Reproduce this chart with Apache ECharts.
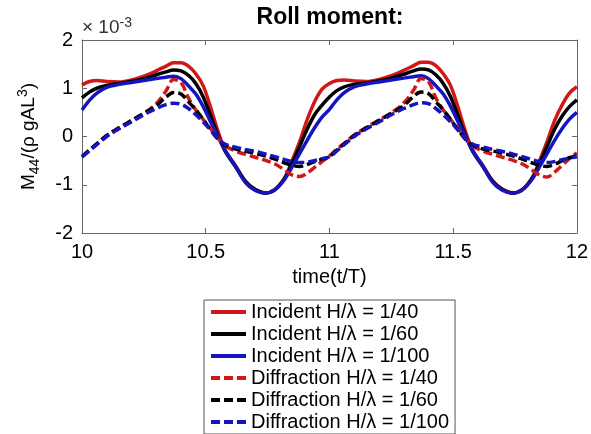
<!DOCTYPE html>
<html>
<head>
<meta charset="utf-8">
<script src="https://cdn.jsdelivr.net/npm/echarts@6/dist/echarts.min.js"></script>
<style>html,body{margin:0;padding:0;background:#fff}#c{width:591px;height:434px}</style>
</head>
<body>
<div id="c"></div>
<script>
// time samples (t/T)
var time = [10, 10.03, 10.06, 10.1, 10.15, 10.2, 10.25, 10.3, 10.34, 10.37, 10.4, 10.43, 10.46, 10.49, 10.52, 10.55, 10.58, 10.62, 10.66, 10.7, 10.74, 10.78, 10.82, 10.85, 10.88, 10.91, 10.94, 10.97,
            11, 11.03, 11.06, 11.1, 11.15, 11.2, 11.25, 11.3, 11.34, 11.37, 11.4, 11.43, 11.46, 11.49, 11.52, 11.55, 11.58, 11.62, 11.66, 11.7, 11.74, 11.78, 11.82, 11.85, 11.88, 11.91, 11.94, 11.97,
            12];
// values in units of 1e-3
var incident40 = [1.07, 1.14, 1.16, 1.14, 1.13, 1.17, 1.25, 1.36, 1.46, 1.53, 1.53, 1.46, 1.3, 1.05, 0.6, 0.1, -0.3, -0.6, -0.92, -1.1, -1.17, -1.1, -0.85, -0.49, -0.1, 0.35, 0.72, 0.98,
                  1.1, 1.16, 1.17, 1.15, 1.14, 1.18, 1.26, 1.37, 1.47, 1.54, 1.54, 1.47, 1.3, 1.05, 0.6, 0.1, -0.3, -0.6, -0.92, -1.1, -1.17, -1.1, -0.85, -0.49, -0.1, 0.33, 0.65, 0.9,
                  1.03];
var incident60 = [0.8, 0.92, 1.0, 1.06, 1.1, 1.14, 1.2, 1.28, 1.34, 1.38, 1.36, 1.27, 1.1, 0.82, 0.42, 0.02, -0.32, -0.62, -0.93, -1.1, -1.17, -1.1, -0.86, -0.55, -0.2, 0.15, 0.45, 0.65,
                  0.82, 0.95, 1.03, 1.08, 1.11, 1.15, 1.21, 1.29, 1.36, 1.4, 1.38, 1.28, 1.1, 0.82, 0.42, 0.02, -0.32, -0.62, -0.93, -1.1, -1.17, -1.1, -0.86, -0.55, -0.2, 0.15, 0.42, 0.62,
                  0.76];
var incident100 = [0.55, 0.75, 0.9, 1.02, 1.08, 1.12, 1.16, 1.2, 1.23, 1.25, 1.2, 1.05, 0.88, 0.62, 0.3, 0.0, -0.3, -0.62, -0.95, -1.12, -1.17, -1.1, -0.88, -0.62, -0.35, -0.08, 0.18, 0.4,
                   0.56, 0.76, 0.91, 1.03, 1.09, 1.13, 1.17, 1.21, 1.24, 1.26, 1.2, 1.05, 0.88, 0.62, 0.3, 0.0, -0.3, -0.62, -0.95, -1.12, -1.17, -1.1, -0.88, -0.62, -0.35, -0.08, 0.16, 0.36,
                   0.5];
var diffraction40 = [-0.42, -0.28, -0.15, 0.02, 0.18, 0.33, 0.48, 0.68, 0.95, 1.18, 1.12, 0.8, 0.55, 0.35, 0.16, -0.04, -0.2, -0.3, -0.37, -0.43, -0.49, -0.57, -0.7, -0.8, -0.83, -0.76, -0.64, -0.52,
                     -0.4, -0.26, -0.14, 0.03, 0.19, 0.34, 0.49, 0.69, 0.96, 1.2, 1.14, 0.8, 0.55, 0.35, 0.16, -0.04, -0.2, -0.3, -0.37, -0.43, -0.49, -0.57, -0.7, -0.8, -0.84, -0.74, -0.6, -0.46,
                     -0.34];
var diffraction60 = [-0.42, -0.28, -0.15, 0.02, 0.18, 0.33, 0.48, 0.64, 0.82, 0.91, 0.88, 0.72, 0.55, 0.35, 0.14, -0.06, -0.18, -0.26, -0.3, -0.35, -0.4, -0.47, -0.55, -0.6, -0.62, -0.58, -0.52, -0.47,
                     -0.42, -0.28, -0.15, 0.02, 0.18, 0.33, 0.48, 0.64, 0.83, 0.92, 0.89, 0.72, 0.55, 0.35, 0.14, -0.06, -0.18, -0.26, -0.3, -0.35, -0.4, -0.47, -0.55, -0.6, -0.62, -0.58, -0.5, -0.44,
                     -0.4];
var diffraction100 = [-0.42, -0.3, -0.17, 0.0, 0.16, 0.3, 0.45, 0.58, 0.66, 0.69, 0.67, 0.58, 0.45, 0.3, 0.13, -0.05, -0.16, -0.22, -0.27, -0.31, -0.36, -0.42, -0.48, -0.52, -0.54, -0.53, -0.5, -0.46,
                      -0.42, -0.3, -0.17, 0.0, 0.16, 0.3, 0.45, 0.58, 0.66, 0.7, 0.68, 0.58, 0.45, 0.3, 0.13, -0.05, -0.16, -0.22, -0.27, -0.31, -0.36, -0.42, -0.48, -0.52, -0.54, -0.52, -0.48, -0.45,
                      -0.42];
var seriesNames = ['Incident H/\u03bb = 1/40', 'Incident H/\u03bb = 1/60', 'Incident H/\u03bb = 1/100',
                   'Diffraction H/\u03bb = 1/40', 'Diffraction H/\u03bb = 1/60', 'Diffraction H/\u03bb = 1/100'];
var xTicks = [10, 10.5, 11, 11.5, 12];
var yTicks = [-2, -1, 0, 1, 2];

var seriesData = [incident40, incident60, incident100, diffraction40, diffraction60, diffraction100];
var colors = ['#d01818', '#000000', '#1414c0', '#d01818', '#000000', '#1414c0'];
var FONT = 'Liberation Sans, Arial, Helvetica, sans-serif';
var AXC = '#666666';
var DASH = [9, 4];

function pairs(arr) { return time.map(function (t, i) { return [t, arr[i]]; }); }

var series = seriesData.map(function (d, i) {
  return {
    name: seriesNames[i], type: 'line', data: pairs(d), smooth: 0.35,
    showSymbol: false, symbol: 'none', clip: true,
    lineStyle: { color: colors[i], width: 3.5, type: i < 3 ? 'solid' : DASH },
    itemStyle: { color: colors[i] }
  };
});

var legendData = seriesNames.map(function (n, i) {
  return { name: n,
    itemStyle: { opacity: 0, borderWidth: 0 },
    lineStyle: { color: colors[i], width: 4, type: i < 3 ? 'solid' : DASH, opacity: 1 } };
});

var chart = echarts.init(document.getElementById('c'), null, { renderer: 'canvas' });
chart.setOption({
  animation: false,
  backgroundColor: '#ffffff',
  textStyle: { fontFamily: FONT },
  title: [
    { text: 'Roll moment:', left: 330, textAlign: 'center', top: 6, padding: 0,
      textStyle: { fontFamily: FONT, fontSize: 23, fontWeight: 'bold', color: '#000' } },
    { text: '{a|\u00d7 10}{b|-3}', left: 82, top: 16, padding: 0,
      textStyle: { fontFamily: FONT, color: '#333', fontWeight: 'normal',
        rich: { a: { fontSize: 19, fontFamily: FONT, fontWeight: 'normal', color: '#333', lineHeight: 24 },
                b: { fontSize: 14, fontFamily: FONT, fontWeight: 'normal', color: '#333', verticalAlign: 'top', lineHeight: 12 } } } }
  ],
  grid: { left: 82, right: 13, top: 40, bottom: 201, containLabel: false },
  xAxis: [
    { type: 'value', min: xTicks[0], max: xTicks[xTicks.length - 1], interval: 0.5, position: 'bottom',
      name: 'time(t/T)', nameLocation: 'middle', nameGap: 34,
      nameTextStyle: { fontFamily: FONT, fontSize: 20, color: '#000' },
      axisLine: { show: true, onZero: false, lineStyle: { color: AXC, width: 1 } },
      axisTick: { show: true, inside: true, length: 5, lineStyle: { color: AXC } },
      axisLabel: { fontFamily: FONT, fontSize: 20, color: '#000', margin: 9,
        formatter: function (v) { return String(v); } },
      splitLine: { show: false } },
    { type: 'value', min: xTicks[0], max: xTicks[xTicks.length - 1], interval: 0.5, position: 'top',
      axisLine: { show: true, onZero: false, lineStyle: { color: AXC, width: 1 } },
      axisTick: { show: true, inside: true, length: 5, lineStyle: { color: AXC } },
      axisLabel: { show: false }, splitLine: { show: false } }
  ],
  yAxis: [
    { type: 'value', min: yTicks[0], max: yTicks[yTicks.length - 1], interval: 1, position: 'left',
      name: '{n|M}{s|44}{n|/(\u03c1 gAL}{p|3}{n|)}', nameLocation: 'middle', nameGap: 40, nameRotate: 90,
      nameTextStyle: { fontFamily: FONT, fontSize: 19, color: '#000',
        rich: { n: { fontFamily: FONT, fontSize: 19, color: '#000', lineHeight: 26 },
                s: { fontFamily: FONT, fontSize: 14, color: '#000', verticalAlign: 'bottom', lineHeight: 12 },
                p: { fontFamily: FONT, fontSize: 14, color: '#000', verticalAlign: 'top', lineHeight: 12 } } },
      axisLine: { show: true, onZero: false, lineStyle: { color: AXC, width: 1 } },
      axisTick: { show: true, inside: true, length: 5, lineStyle: { color: AXC } },
      axisLabel: { fontFamily: FONT, fontSize: 20, color: '#000', margin: 9 },
      splitLine: { show: false } },
    { type: 'value', min: yTicks[0], max: yTicks[yTicks.length - 1], interval: 1, position: 'right',
      axisLine: { show: true, onZero: false, lineStyle: { color: AXC, width: 1 } },
      axisTick: { show: true, inside: true, length: 5, lineStyle: { color: AXC } },
      axisLabel: { show: false }, splitLine: { show: false } }
  ],
  legend: {
    orient: 'vertical', left: 204, top: 300,
    data: legendData,
    itemWidth: 35, itemHeight: 14, itemGap: 2,
    padding: [2, 6, 2, 5],
    borderColor: '#555', borderWidth: 1, backgroundColor: '#fff',
    itemStyle: { opacity: 0, borderWidth: 0 },
    lineStyle: { width: 4 },
    textStyle: { fontFamily: FONT, fontSize: 20, color: '#000', lineHeight: 20 },
    selectedMode: false
  },
  series: series
});
</script>
</body>
</html>
